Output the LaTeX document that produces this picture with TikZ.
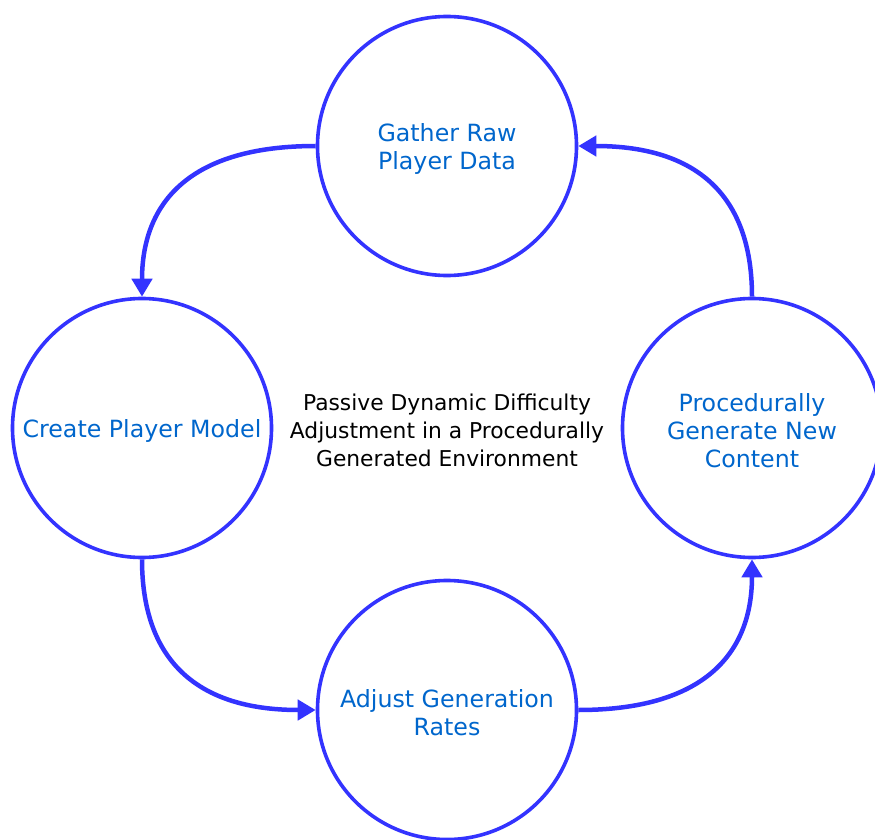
\documentclass[tikz,border=0pt]{standalone}
\usepackage{fontspec}
\setmainfont{DejaVu Sans}
\usetikzlibrary{arrows.meta}
\definecolor{ringblue}{HTML}{3333FF}
\definecolor{textblue}{HTML}{0066CC}
\begin{document}
\begin{tikzpicture}[x=1pt,y=-1pt,
  stage/.style={circle, draw=ringblue, line width=3.6pt, minimum size=259pt, inner sep=0pt},
  stagetext/.style={align=center, text=textblue, inner sep=0pt, font=\fontsize{23.7}{28}\selectfont},
  link/.style={draw=ringblue, line width=4.5pt, -{Triangle[length=18pt,width=20pt]}},
  caption/.style={align=center, text=black, font=\fontsize{21.8}{28}\selectfont}]
\useasboundingbox (0,0) rectangle (875,840);
\node[stage] (T) at (447,146) {};
\node[stage] (L) at (142,428) {};
\node[stage] (R) at (752,428) {};
\node[stage] (B) at (447,710) {};
\node[stagetext] (Tt) at ([yshift=-2.5pt]T.center) {Gather Raw\\Player Data};
\node[stagetext] (Lt) at ([yshift=-2.5pt]L.center) {Create Player Model};
\node[stagetext] (Rt) at ([yshift=-2.5pt]R.center) {Procedurally\\Generate New\\Content};
\node[stagetext] (Bt) at ([yshift=-2.5pt]B.center) {Adjust Generation\\Rates};
\node[caption] (C) at (447,430) {Passive Dynamic Difficulty\\Adjustment in a Procedurally\\Generated Environment};
\draw[link] (T.west) .. controls +(-125,0) and +(0,-95) .. (L.north);
\draw[link] (L.south) .. controls +(0,95) and +(-125,0) .. (B.west);
\draw[link] (B.east) .. controls +(125,0) and +(0,95) .. (R.south);
\draw[link] (R.north) .. controls +(0,-95) and +(125,0) .. (T.east);
\end{tikzpicture}
\end{document}
